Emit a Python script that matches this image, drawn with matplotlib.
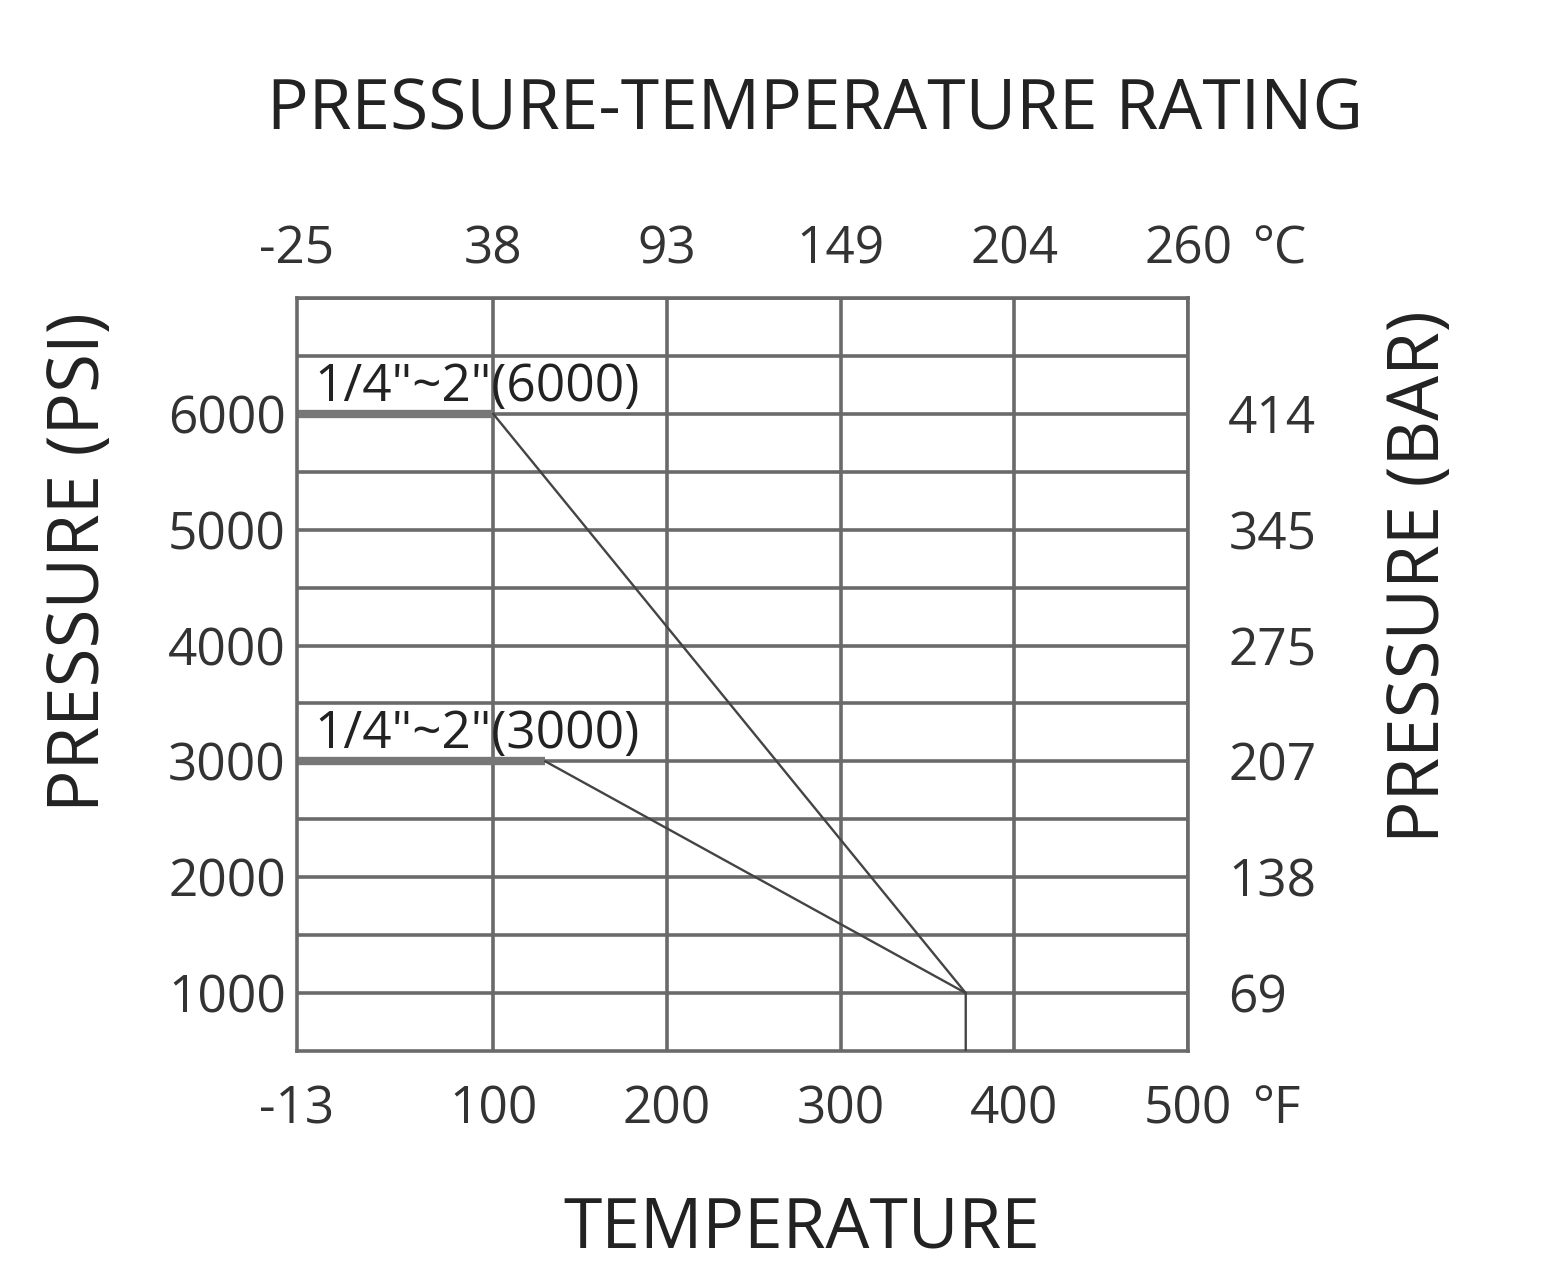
import matplotlib
matplotlib.use("Agg")
import matplotlib.pyplot as plt

plt.rcParams['font.family'] = ['Open Sans', 'DejaVu Sans']

# data (deg F / psi)
temp_6000 = [-13, 100, 372, 372]
psi_6000 = [6000, 6000, 1000, 500]
temp_3000 = [-13, 130, 372]
psi_3000 = [3000, 3000, 1000]

f_ticks = [-13, 100, 200, 300, 400, 500]
f_labels = ["-13", "100", "200", "300", "400", "500"]
c_labels = ["-25", "38", "93", "149", "204", "260"]
psi_ticks = [1000, 2000, 3000, 4000, 5000, 6000]
bar_labels = ["69", "138", "207", "275", "345", "414"]

fig = plt.figure(figsize=(15.68, 12.77), dpi=100)
ax = fig.add_axes([0.1894, 0.177, 0.5683, 0.5896])

ax.set_xlim(-13, 500)
ax.set_ylim(500, 7000)

grid_col = "#6a6a6a"
for y in range(1000, 7001, 500):
    ax.axhline(y, color=grid_col, lw=2.6, zorder=1)
for x in f_ticks[1:]:
    ax.axvline(x, color=grid_col, lw=2.6, zorder=1)
for s in ax.spines.values():
    s.set_color(grid_col)
    s.set_linewidth(2.6)

# thick rating bands
ax.plot(temp_6000[:2], psi_6000[:2], color="#777777", lw=6, solid_capstyle="butt", zorder=2)
ax.plot(temp_3000[:2], psi_3000[:2], color="#777777", lw=6, solid_capstyle="butt", zorder=2)
# derating lines
ax.plot(temp_6000[1:], psi_6000[1:], color="#444444", lw=1.7, zorder=3)
ax.plot(temp_3000[1:], psi_3000[1:], color="#444444", lw=1.7, zorder=3)

ax.text(-3, 6010, '1/4"~2"(6000)', fontsize=37, color="#222222", va="bottom", ha="left", zorder=4)
ax.text(-3, 3010, '1/4"~2"(3000)', fontsize=37, color="#222222", va="bottom", ha="left", zorder=4)

tick_col = "#333333"
ax.set_xticks(f_ticks)
ax.set_xticklabels(f_labels)
ax.set_yticks(psi_ticks)
ax.set_yticklabels([str(v) for v in psi_ticks])
ax.tick_params(axis="x", length=0, labelsize=37, colors=tick_col, pad=24)
ax.tick_params(axis="y", length=0, labelsize=37, colors=tick_col, pad=8)

ax_top = ax.twiny()
ax_top.set_xlim(ax.get_xlim())
ax_top.set_xticks(f_ticks)
ax_top.set_xticklabels(c_labels)
ax_top.tick_params(length=0, labelsize=37, colors=tick_col, pad=16)

ax_r = ax.twinx()
ax_r.set_ylim(ax.get_ylim())
ax_r.set_yticks(psi_ticks)
ax_r.set_yticklabels(bar_labels)
ax_r.tick_params(length=0, labelsize=37, colors=tick_col, pad=29)

for a in (ax_top, ax_r):
    for s in a.spines.values():
        s.set_visible(False)

# unit suffixes next to the last tick labels
fig.text(1252 / 1568, 1 - 263 / 1277, "°C", fontsize=37, color=tick_col, ha="left", va="baseline")
fig.text(1252 / 1568, 1 - 1123 / 1277, "°F", fontsize=37, color=tick_col, ha="left", va="baseline")

fig.text(80 / 1568, 1 - 562 / 1277, "PRESSURE (PSI)", fontsize=51, color="#222222",
         rotation=90, ha="center", va="center")
fig.text(1420 / 1568, 1 - 577 / 1277, "PRESSURE (BAR)", fontsize=51, color="#222222",
         rotation=90, ha="center", va="center")
fig.text(802 / 1568, 1 - 1230 / 1277, "TEMPERATURE", fontsize=50, color="#222222",
         ha="center", va="center")
fig.text(815 / 1568, 1 - 112 / 1277, "PRESSURE-TEMPERATURE RATING", fontsize=50, color="#222222",
         ha="center", va="center")

fig.savefig("out.png", dpi=100, facecolor="white")
